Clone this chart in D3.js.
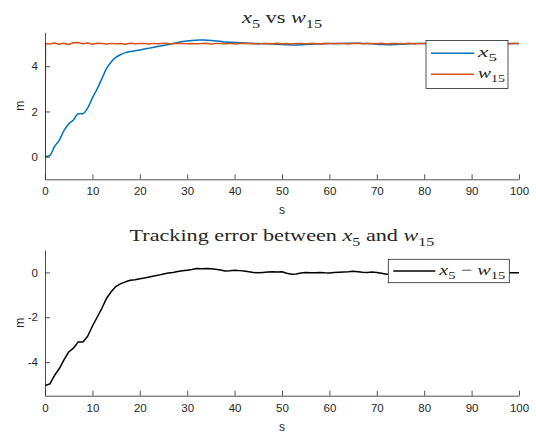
<!DOCTYPE html>
<html>
<head>
<meta charset="utf-8">
<script src="https://cdn.jsdelivr.net/npm/d3@7"></script>
<style>
  body { margin: 0; background: #fff; }
  text { fill: #262626; }
</style>
</head>
<body>
<svg id="chart" width="536" height="436"></svg>
<script>
// sample times, 1 s step
const time = d3.range(0, 101);

// x5 position
const x5 = [
  0.00, 0.05, 0.45, 0.72, 1.15, 1.45, 1.62, 1.90, 1.90, 2.15,
  2.60, 3.00, 3.45, 3.90, 4.20, 4.40, 4.52, 4.60, 4.65, 4.68,
  4.72, 4.76, 4.80, 4.84, 4.88, 4.92, 4.96, 5.00, 5.05, 5.09,
  5.12, 5.14, 5.15, 5.16, 5.15, 5.14, 5.12, 5.10, 5.07, 5.06,
  5.05, 5.04, 5.03, 5.02, 5.01, 5.00, 4.99, 4.99, 4.98, 4.97,
  4.96, 4.95, 4.94, 4.94, 4.95, 4.96, 4.97, 4.98, 4.98, 4.99,
  5.00, 5.00, 5.01, 5.01, 5.02, 5.02, 5.02, 5.01, 5.00, 4.99,
  4.97, 4.96, 4.95, 4.95, 4.96, 4.97, 4.98, 4.99, 5.00, 5.00,
  5.00, 5.00, 5.00, 5.01, 5.01, 5.00, 5.00, 4.99, 4.99, 5.00,
  5.00, 5.00, 5.00, 5.00, 5.00, 5.00, 5.00, 5.00, 5.00, 5.00,
  5.00
];

// w15 reference, steps from 0 to 5 right at the start
const wTime = [0, 0.1].concat(d3.range(1, 101));
const w15 = [
  0.00, 5.00,
  4.98, 5.03, 4.97, 5.02, 4.96, 5.04, 5.05, 4.99, 5.03, 4.97,
  5.02, 5.00, 4.98, 5.01, 4.99, 5.00, 4.97, 5.02, 4.99, 5.01,
  5.00, 4.98, 5.01, 4.99, 5.02, 5.00, 4.99, 5.01, 5.00, 4.99,
  5.01, 4.99, 5.00, 5.02, 4.98, 5.00, 5.01, 4.99, 5.01, 4.98,
  5.00, 5.02, 4.99, 5.00, 4.98, 5.01, 5.00, 4.99, 5.02, 4.99,
  5.00, 4.98, 5.01, 5.00, 4.99, 5.01, 5.00, 4.98, 5.02, 5.00,
  4.99, 5.01, 5.00, 4.98, 5.00, 5.02, 4.99, 5.00, 5.01, 4.99,
  5.02, 4.98, 5.00, 5.01, 4.99, 5.00, 5.02, 4.98, 5.01, 5.00,
  4.99, 5.01, 5.00, 4.98, 5.02, 5.00, 4.99, 5.01, 5.00, 4.99,
  5.01, 5.00, 4.98, 5.02, 4.99, 5.00, 5.01, 4.99, 5.00, 5.00
];

// tracking error x5 - w15
const err = [
  -5.05, -4.98, -4.60, -4.30, -3.90, -3.55, -3.38, -3.10, -3.10, -2.85,
  -2.40, -2.00, -1.60, -1.15, -0.85, -0.62, -0.50, -0.42, -0.35, -0.33,
  -0.28, -0.25, -0.20, -0.16, -0.12, -0.07, -0.03, 0.00, 0.04, 0.07,
  0.10, 0.13, 0.17, 0.16, 0.17, 0.16, 0.14, 0.11, 0.06, 0.07,
  0.10, 0.08, 0.06, 0.03, 0.00, -0.02, 0.00, 0.02, 0.03, 0.02,
  0.03, -0.04, -0.08, -0.07, -0.03, 0.00, -0.01, -0.02, 0.00, -0.02,
  -0.03, 0.00, 0.01, 0.02, 0.03, 0.05, 0.03, 0.01, 0.00, 0.02,
  0.00, -0.04, -0.08, -0.06, -0.03, -0.01, 0.00, 0.01, 0.00, -0.01,
  0.00, 0.01, 0.00, -0.01, 0.00, 0.01, 0.00, -0.01, 0.00, 0.00,
  0.01, 0.00, -0.01, 0.00, 0.00, -0.01, 0.00, -0.02, -0.01, -0.02,
  -0.02
];

const xTicks = [0, 10, 20, 30, 40, 50, 60, 70, 80, 90, 100];
const yTicksTop = [0, 2, 4];
const yTicksBottom = [-4, -2, 0];

const BLUE = "#0072BD", ORANGE = "#D95319", INK = "#262626";
const SANS = "'Liberation Sans', Arial, sans-serif";
const SERIF = "'Liberation Serif', 'Times New Roman', serif";

const svg = d3.select("#chart");

// latex-ish text: italic letters and subscripts, parts like [["x","i"],["5","sub"],[" vs ",""]]
// the text is stretched sideways to the width it has in the picture (computer modern is wide)
function mathText(parent, parts, size, left, baseline, width, anchor) {
  const g = parent.append("g");
  const t = g.append("text").attr("font-family", SERIF).attr("font-size", size).attr("fill", "#000");
  let shift = 0;
  parts.forEach(function (p) {
    const ts = t.append("tspan").text(p[0]);
    let want = 0;
    if (p[1] === "sub") {
      want = size * 0.3;
      ts.attr("font-size", size * 0.72);
    }
    if (p[1] === "i") ts.attr("font-style", "italic");
    if (want !== shift) { ts.attr("dy", want - shift); shift = want; }
  });
  const w = t.node().getComputedTextLength();
  const x0 = anchor === "middle" ? left - width / 2 : left;
  g.attr("transform", "translate(" + x0 + "," + baseline + ") scale(" + (width / w) + ",1)");
  return g;
}

function panel(opt) {
  const x = d3.scaleLinear().domain([0, 100]).range([45, 519]);
  const y = d3.scaleLinear().domain(opt.yDomain).range([opt.bottom, opt.top]);
  const g = svg.append("g");

  const clipId = "clip" + Math.round(opt.top);
  g.append("clipPath").attr("id", clipId).append("rect")
    .attr("x", 45).attr("y", opt.top).attr("width", 474).attr("height", opt.bottom - opt.top);

  const plot = g.append("g").attr("clip-path", "url(#" + clipId + ")");
  opt.series.forEach(function (s) {
    const line = d3.line()
      .x(function (d, i) { return x(s.t[i]); })
      .y(function (d) { return y(d); })
      .curve(s.smooth ? d3.curveMonotoneX : d3.curveLinear);
    plot.append("path").datum(s.v)
      .attr("fill", "none").attr("stroke", s.color).attr("stroke-width", 1.5)
      .attr("stroke-linejoin", "round")
      .attr("d", line);
  });

  // axes, ticks point inward like matlab
  const xa = g.append("g").attr("transform", "translate(0," + opt.bottom + ")")
    .call(d3.axisBottom(x).tickValues(xTicks).tickSizeInner(-5).tickSizeOuter(0).tickPadding(8));
  const ya = g.append("g").attr("transform", "translate(45,0)")
    .call(d3.axisLeft(y).tickValues(opt.yTicks).tickFormat(function (d) { return String(d); })
      .tickSizeInner(-5).tickSizeOuter(0).tickPadding(7));
  [xa, ya].forEach(function (a) {
    a.selectAll("path, line").attr("stroke", INK).attr("stroke-width", 0.8);
    a.selectAll("text").attr("font-family", SANS).attr("font-size", 11.5).attr("fill", INK);
  });

  g.append("text").attr("x", 282).attr("y", opt.bottom + 35)
    .attr("text-anchor", "middle").attr("font-family", SANS).attr("font-size", 12).text("s");
  g.append("text").attr("transform", "translate(24," + ((opt.top + opt.bottom) / 2) + ") rotate(-90)")
    .attr("text-anchor", "middle").attr("font-family", SANS).attr("font-size", 12).text("m");

  mathText(g, opt.title, 16.5, 282, opt.top - 9, opt.titleWidth, "middle");

  // legend
  const lg = opt.legend;
  g.append("rect").attr("x", lg.x).attr("y", lg.y).attr("width", lg.w).attr("height", lg.h)
    .attr("fill", "#fff").attr("stroke", INK).attr("stroke-width", 0.8);
  lg.items.forEach(function (it, i) {
    const yy = lg.y + lg.first + i * 21;
    g.append("line").attr("x1", lg.x + 5).attr("x2", lg.x + lg.lineLen)
      .attr("y1", yy).attr("y2", yy).attr("stroke", it.color).attr("stroke-width", 1.5);
    mathText(g, it.label, 15, lg.x + lg.lineLen + 4, yy + 3.5, it.width, "start");
  });
}

panel({
  top: 32.3, bottom: 179.3, yDomain: [-1, 5.5], yTicks: yTicksTop,
  title: [["x", "i"], ["5", "sub"], ["  vs  ", ""], ["w", "i"], ["15", "sub"]], titleWidth: 80,
  series: [
    { t: time, v: x5, color: BLUE, smooth: true },
    { t: wTime, v: w15, color: ORANGE }
  ],
  legend: { x: 426, y: 40.5, w: 82, h: 48, first: 12.8, lineLen: 48,
    items: [
      { color: BLUE, label: [["x", "i"], ["5", "sub"]], width: 19 },
      { color: ORANGE, label: [["w", "i"], ["15", "sub"]], width: 27 }
    ] }
});

panel({
  top: 250, bottom: 395.7, yDomain: [-5.5, 1], yTicks: yTicksBottom,
  title: [["Tracking error between ", ""], ["x", "i"], ["5", "sub"], [" and ", ""], ["w", "i"], ["15", "sub"]],
  titleWidth: 305,
  series: [
    { t: time, v: err, color: "#000" }
  ],
  legend: { x: 388.3, y: 259.3, w: 121, h: 23.4, first: 11.7, lineLen: 47,
    items: [
      { color: "#000", label: [["x", "i"], ["5", "sub"], [" \u2212 ", ""], ["w", "i"], ["15", "sub"]], width: 66 }
    ] }
});
</script>
</body>
</html>
